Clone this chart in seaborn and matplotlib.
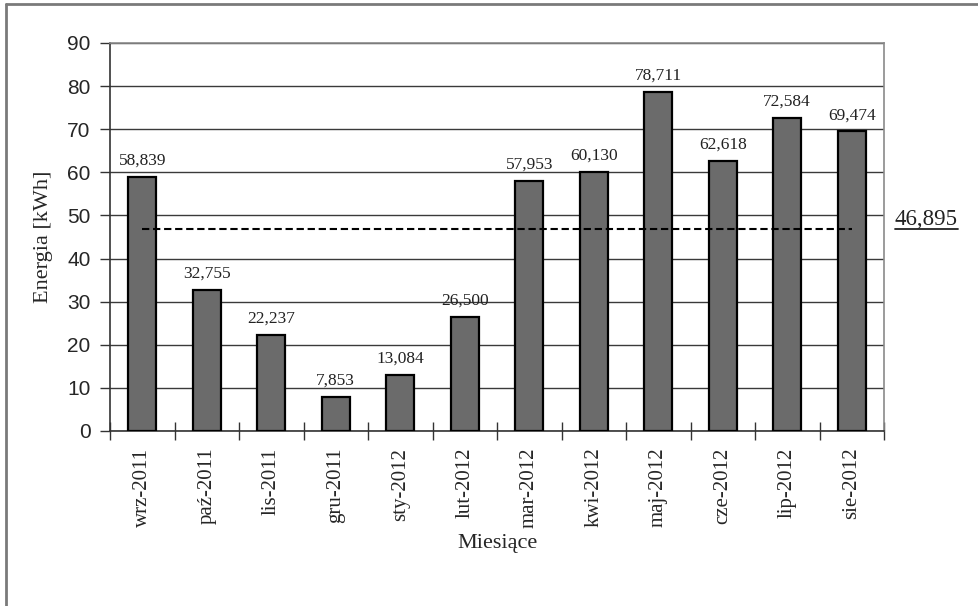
import numpy as np
import pandas as pd
import seaborn as sns
import matplotlib.pyplot as plt
from matplotlib.lines import Line2D
from matplotlib.transforms import blended_transform_factory

months = ['wrz-2011', 'paź-2011', 'lis-2011', 'gru-2011', 'sty-2012', 'lut-2012',
          'mar-2012', 'kwi-2012', 'maj-2012', 'cze-2012', 'lip-2012', 'sie-2012']
energy = [58.839, 32.755, 22.237, 7.853, 13.084, 26.500,
          57.953, 60.130, 78.711, 62.618, 72.584, 69.474]
y_ticks = [0, 10, 20, 30, 40, 50, 60, 70, 80, 90]

df = pd.DataFrame({'Miesiace': months, 'Energia': energy})
avg = float(np.mean(energy))  # średnia miesięczna

sns.set_style('white')
plt.rcParams['font.family'] = ['Liberation Serif', 'DejaVu Serif']

fig = plt.figure(figsize=(9.79, 6.06), dpi=100)
ax = fig.add_axes([110 / 979, 1 - 431 / 606, (884 - 110) / 979, (431 - 43) / 606])

sns.barplot(data=df, x='Miesiace', y='Energia', color='#6b6b6b', saturation=1,
            edgecolor='black', linewidth=1.6, width=0.43, ax=ax, zorder=3)

# linia średniej
sns.lineplot(x=list(range(len(months))), y=[avg] * len(months), ax=ax,
             color='black', linewidth=1.5, linestyle=(0, (3.5, 1.8)), zorder=4)

# etykiety wartości nad słupkami
labels = [f'{v:.3f}'.replace('.', ',') for v in energy]
ax.bar_label(ax.containers[0], labels=labels, padding=6, fontsize=12.5,
             family='Liberation Serif', color='#222222')

ax.set_ylim(0, 90)
ax.set_xlim(-0.5, len(months) - 0.5)
ax.set_yticks(y_ticks)
ax.yaxis.grid(True, color='#3a3a3a', linewidth=1.0, zorder=0)
ax.set_axisbelow(True)

ax.tick_params(axis='y', direction='out', length=7, width=1, color='#333333',
               labelsize=15, pad=7, left=True)
for t in ax.get_yticklabels():
    t.set_family('Liberation Sans')

ax.set_xticks(np.arange(len(months)))
ax.set_xticklabels(months, rotation=90, fontsize=15)
ax.set_xticks(np.arange(len(months) + 1) - 0.5, minor=True)
ax.tick_params(axis='x', which='major', length=0, pad=12)
ax.tick_params(axis='x', which='minor', direction='inout', length=13, width=1,
               color='#333333', bottom=True)

ax.set_ylabel('Energia [kWh]', fontsize=16, labelpad=10)
ax.set_xlabel('Miesiące', fontsize=16, labelpad=4)

for side in ['left', 'bottom']:
    ax.spines[side].set_color('#333333')
    ax.spines[side].set_linewidth(1.2)
for side in ['top', 'right']:
    ax.spines[side].set_color('#8a8a8a')
    ax.spines[side].set_linewidth(1.2)

# podpis średniej z podkreśleniem
blend = blended_transform_factory(fig.transFigure, ax.transData)
txt = ax.text(895 / 979, avg + 0.95, f'{avg:.3f}'.replace('.', ','), fontsize=16.5,
              transform=blend, va='baseline', ha='left', color='#222222')
fig.canvas.draw()
bb = txt.get_window_extent()
x0, x1 = fig.transFigure.inverted().transform([[bb.x0, 0], [bb.x1, 0]])[:, 0]
ax.add_line(Line2D([x0, x1], [avg, avg], color='#222222', linewidth=1.3,
                   transform=blend, clip_on=False))

# obramowanie obrazka
fig.add_artist(Line2D([6.5 / 979, 6.5 / 979], [0, 1 - 3.5 / 606], color='#7a7a7a',
                      linewidth=2, transform=fig.transFigure))
fig.add_artist(Line2D([6.5 / 979, 1], [1 - 3.5 / 606, 1 - 3.5 / 606], color='#7a7a7a',
                      linewidth=2, transform=fig.transFigure))

fig.savefig('out.png', dpi=100)
